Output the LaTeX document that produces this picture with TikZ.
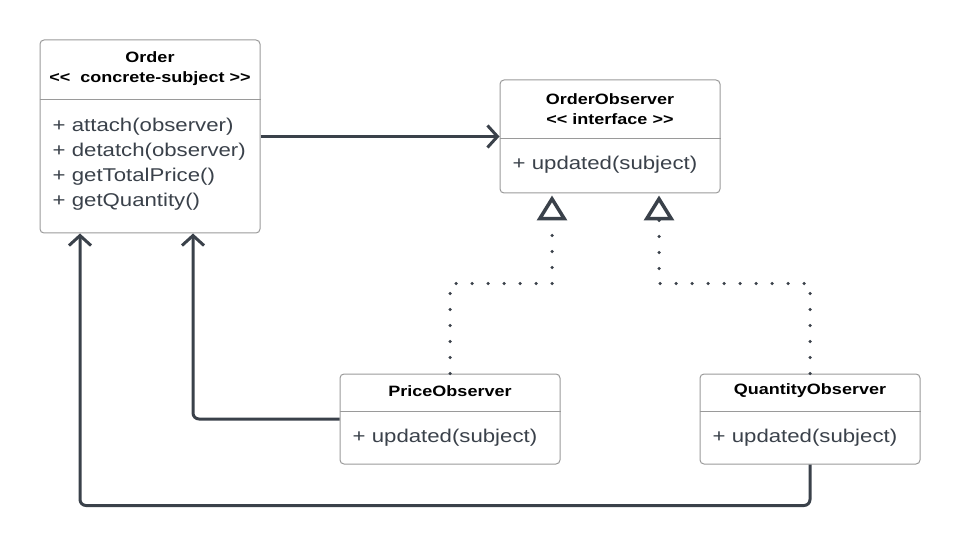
\documentclass[tikz,border=0pt]{standalone}
\usepackage{fontspec}
\setmainfont{Liberation Sans}[FakeStretch=1.2]
\usetikzlibrary{arrows.meta}

\definecolor{linkgray}{HTML}{3A414A}
\definecolor{linegray}{HTML}{9A9A9A}

\tikzset{
  umlbox/.style={draw=linegray, line width=1pt, rounded corners=4pt, minimum width=220pt, inner sep=0pt},
  headtext/.style={font=\bfseries\fontsize{15}{20}\selectfont, align=center, inner sep=0pt},
  methodtext/.style={font=\fontsize{18.5}{25}\selectfont, text=linkgray, align=left, anchor=west, inner sep=0pt},
  link/.style={draw=linkgray, line width=3pt, rounded corners=6pt, -{Straight Barb[length=10pt,width=22pt]}},
  realize/.style={draw=linkgray, line width=3.5pt, line cap=round, dash pattern=on 0pt off 16pt,
    -{Triangle[open, length=25pt, width=30pt]}, shorten >=2pt}
}

\begin{document}
\begin{tikzpicture}[x=1pt, y=-1pt]
\useasboundingbox (0,0) rectangle (960,545);

% class boxes
\node [umlbox, minimum height=193pt] (order) at (150,136.5) {};
\node [umlbox, minimum height=113pt] (observer) at (610,136.5) {};
\node [umlbox, minimum height=90pt] (price) at (450,419) {};
\node [umlbox, minimum height=90pt] (quantity) at (810,419) {};

% compartments
\draw [linegray, line width=1pt] (order.west |- 0,100) -- (order.east |- 0,100);
\draw [linegray, line width=1pt] (observer.west |- 0,139) -- (observer.east |- 0,139);
\draw [linegray, line width=1pt] (price.west |- 0,411) -- (price.east |- 0,411);
\draw [linegray, line width=1pt] (quantity.west |- 0,411) -- (quantity.east |- 0,411);

% texts
\node [headtext] (orderhead) at (150,69) {Order\\<{}<\ \ concrete-subject >{}>};
\node [methodtext] (ordermethods) at (52.5,164) {+ attach(observer)\\+ detatch(observer)\\+ getTotalPrice()\\+ getQuantity()};
\node [headtext] (observerhead) at (610,109) {OrderObserver\\<{}< interface >{}>};
\node [methodtext] (observermethod) at (512.5,165) {+ updated(subject)};
\node [headtext] (pricehead) at (450,391) {PriceObserver};
\node [methodtext] (pricemethod) at (352.5,438) {+ updated(subject)};
\node [headtext] (quantityhead) at (810,391) {QuantityObserver};
\node [methodtext] (quantitymethod) at (712.5,438) {+ updated(subject)};

% connectors
\draw [link] (order.east) -- (observer.west);
\draw [link] (price.west) -| ([xshift=43pt]order.south);
\draw [link] (quantity.south) -- ++(0,41) -| ([xshift=-70pt]order.south);
\draw [realize] (price.north) -- ++(0,-90) -| ([xshift=-58pt]observer.south);
\draw [realize] (quantity.north) -- ++(0,-90) -| ([xshift=49pt]observer.south);

\end{tikzpicture}
\end{document}
